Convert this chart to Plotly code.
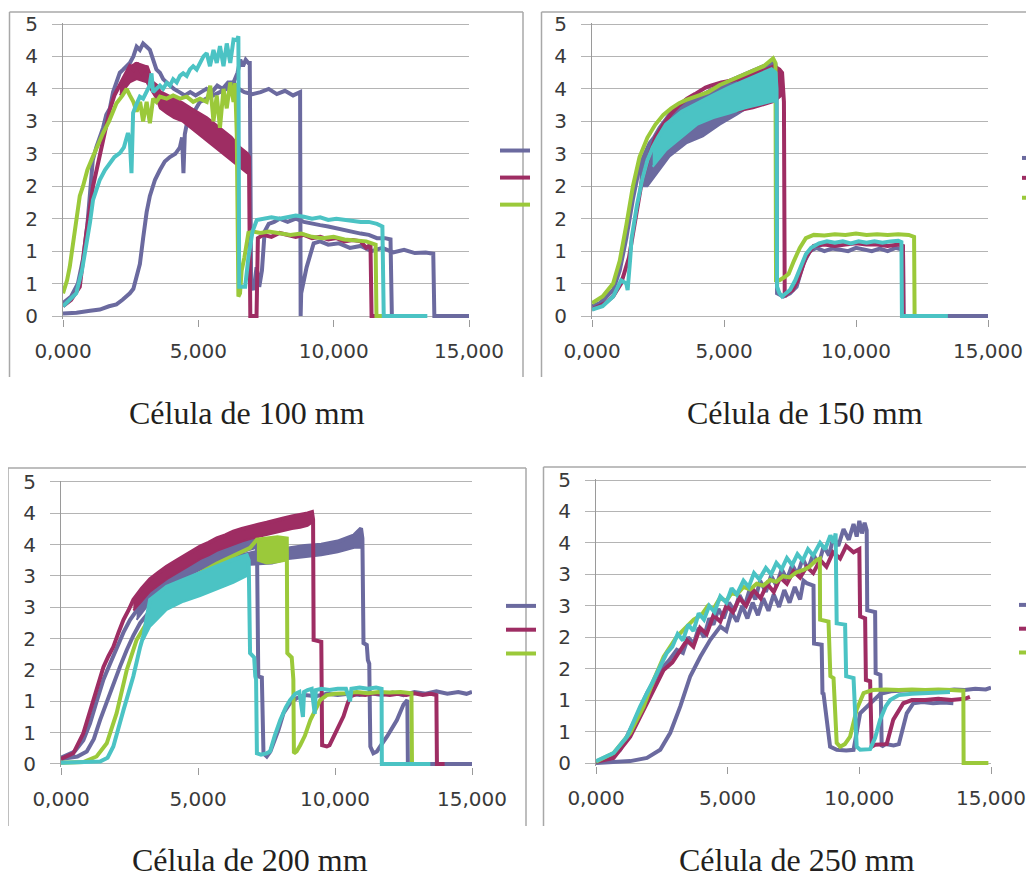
import plotly.graph_objects as go

# The page body adds an 8 px margin; figure pixels = page pixels - 8.
OFF = 8
FW, FH = 1070, 878

# ---------------- tick labels / titles ----------------
Y_TICKS = [0, 0.5, 1.0, 1.5, 2.0, 2.5, 3.0, 3.5, 4.0, 4.5]
Y_TEXT = ["0", "1", "1", "2", "2", "3", "3", "4", "4", "5"]
X_TICKS = [0, 5000, 10000, 15000]
X_TEXT = ["0,000", "5,000", "10,000", "15,000"]
TITLES = ["Célula de 100 mm", "Célula de 150 mm", "Célula de 200 mm", "Célula de 250 mm"]

# ---------------- panel 1 : 100 mm ----------------
P1_PURPLE_A = [(0,0.2),(300,0.3),(550,0.5),(750,0.9),(900,1.4),(1000,1.9),(1100,2.4),(1230,2.6),(1360,2.75),
 (1480,2.9),(1600,3.1),(1730,3.2),(1850,3.45),(1975,3.62),(2100,3.75),(2230,3.8),(2350,3.85),(2470,3.9),
 (2600,4.0),(2720,4.15),(2840,4.1),(2960,4.2),(3090,4.15),(3210,4.1),(3330,3.95),(3450,3.8),(3580,3.75),
 (3700,3.65),(3830,3.6),(3950,3.55),(4100,3.5),(4300,3.45),(4500,3.4),(4700,3.45),(4900,3.4),(5100,3.45),
 (5300,3.5),(5500,3.45),(5700,3.55),(5900,3.5),(6100,3.6),(6300,3.6),(6450,3.75),(6550,3.95),(6650,3.85),
 (6750,3.95),(6850,3.9),(6900,3.9),(6950,0.5),(7050,0.4),(7150,0.75),(7250,0.45),(7350,0.7),(7450,1.3),
 (7600,1.42),(7800,1.45),(8000,1.5),(8300,1.45),(8600,1.5),(8900,1.45),(9200,1.42),(9500,1.4),(9800,1.38),
 (10100,1.35),(10400,1.33),(10700,1.3),(11000,1.27),(11300,1.25),(11600,1.2),(11900,1.2),(12100,1.18),
 (12150,0),(12500,0),(13000,0)]
P1_PURPLE_B = [(0,0.04),(500,0.05),(1000,0.08),(1360,0.1),(1700,0.15),(1975,0.18),(2200,0.25),(2470,0.35),
 (2600,0.42),(2720,0.6),(2840,0.8),(2960,1.2),(3090,1.6),(3210,1.85),(3400,2.1),(3580,2.25),(3760,2.38),
 (3950,2.45),(4150,2.5),(4320,2.6),(4400,2.75),(4450,2.2),(4500,2.8),(4570,2.95),(4700,3.05),(4850,3.15),
 (5060,3.3),(5300,3.35),(5550,3.4),(5800,3.45),(6050,3.5),(6300,3.6),(6500,3.5),(6700,3.45),(7000,3.42),
 (7300,3.45),(7600,3.5),(7900,3.42),(8200,3.47),(8500,3.4),(8760,3.45),(8780,0),(8800,0.35),(9000,0.75),
 (9260,1.12),(9500,1.15),(9800,1.1),(10200,1.12),(10600,1.05),(11000,1.08),(11400,1.0),(11800,1.05),
 (12200,0.98),(12600,1.02),(13000,0.97),(13400,0.98),(13680,0.96),(13720,0),(14200,0),(15000,0)]
P1_CRIMSON = [(0,0.15),(300,0.25),(620,0.45),(860,1.28),(1110,2.0),(1360,2.46),(1600,2.9),(1730,3.18),
 (1900,3.4),(2100,3.55),(2300,3.7),(2470,3.85),(2600,3.8),(2720,3.9),(2900,3.75),(3090,3.85),(3300,3.6),
 (3450,3.55),(3580,3.45),(3830,3.4),(4100,3.35),(4400,3.28),(4700,3.2),(5000,3.12),(5300,3.05),(5600,2.95),
 (5900,2.85),(6200,2.75),(6500,2.6),(6800,2.5),(6870,2.45),(6890,0),(6920,0),(7150,0),(7200,1.2),(7400,1.25),
 (7700,1.22),(8000,1.28),(8300,1.25),(8600,1.22),(8900,1.25),(9200,1.2),(9500,1.22),(9800,1.18),(10100,1.2),
 (10400,1.15),(10700,1.17),(11000,1.15),(11200,1.05),(11360,1.1),(11400,0),(11700,0)]
P1_CRIMSON_HI = [(2100,3.55),(2470,3.85),(2720,3.9),(3090,3.85),(3300,3.6),(3450,3.55),(3580,3.45),(3830,3.4),
 (4100,3.35),(4400,3.28),(4700,3.2),(5000,3.12),(5300,3.05),(5600,2.95),(5900,2.85),(6200,2.75),(6500,2.6),
 (6800,2.5),(6870,2.45)]
P1_CRIMSON_LO = [(2100,3.4),(2470,3.6),(2720,3.65),(3090,3.6),(3300,3.45),(3450,3.35),(3580,3.2),(3830,3.12),
 (4100,3.05),(4400,3.0),(4700,2.9),(5000,2.8),(5300,2.7),(5600,2.6),(5900,2.5),(6200,2.4),(6500,2.3),
 (6800,2.2),(6870,2.2)]
P1_GREEN = [(0,0.35),(150,0.55),(250,0.76),(370,1.1),(490,1.53),(620,1.85),(740,2.0),(900,2.25),(1110,2.46),
 (1300,2.65),(1480,2.82),(1700,3.0),(1975,3.28),(2200,3.4),(2350,3.5),(2470,3.4),(2600,3.3),(2720,3.15),
 (2850,3.3),(2960,3.0),(3090,3.3),(3210,2.97),(3330,3.35),(3450,3.3),(3580,3.38),(3830,3.35),(4070,3.4),
 (4320,3.35),(4570,3.38),(4810,3.3),(5060,3.35),(5310,3.3),(5440,3.55),(5560,3.0),(5680,3.4),(5800,2.9),
 (5930,3.5),(6050,3.2),(6180,3.6),(6300,3.3),(6360,3.59),(6420,2.8),(6450,0.4),(6480,0.3),(6540,0.35),
 (6600,0.7),(6700,0.9),(6850,1.28),(7040,1.3),(7300,1.28),(7600,1.3),(8000,1.27),(8400,1.25),(8800,1.27),
 (9200,1.22),(9600,1.2),(10000,1.22),(10400,1.18),(10800,1.17),(11200,1.15),(11550,1.1),(11580,0),(11800,0)]
P1_CYAN = [(0,0.15),(250,0.25),(490,0.35),(700,0.7),(860,1.07),(1000,1.45),(1110,1.79),(1230,1.95),
 (1360,2.1),(1550,2.25),(1730,2.36),(1900,2.45),(2100,2.51),(2250,2.6),(2400,2.82),(2470,2.7),(2530,2.2),
 (2560,2.8),(2590,3.13),(2700,3.25),(2840,3.38),(2960,3.35),(3100,3.45),(3200,3.55),(3270,3.74),(3330,3.45),
 (3450,3.5),(3580,3.55),(3700,3.5),(3830,3.59),(3950,3.55),(4070,3.65),(4200,3.6),(4320,3.7),(4440,3.74),
 (4570,3.7),(4690,3.8),(4810,3.85),(4940,3.8),(5060,3.9),(5190,4.0),(5310,4.05),(5430,3.85),(5560,4.1),
 (5680,3.9),(5800,4.16),(5930,3.85),(6050,4.2),(6180,3.9),(6300,4.26),(6420,4.25),(6480,4.31),(6510,0.45),
 (6550,0.45),(6730,0.45),(6850,0.9),(7000,1.3),(7160,1.48),(7400,1.5),(7700,1.52),(8000,1.5),(8300,1.53),
 (8600,1.55),(8900,1.53),(9200,1.5),(9500,1.52),(9800,1.48),(10100,1.5),(10400,1.48),(10700,1.47),
 (11000,1.45),(11300,1.45),(11600,1.42),(11800,1.38),(11850,0),(11900,0),(13460,0)]

# ---------------- panel 2 : 150 mm ----------------
P2_PURPLE = [(0,0.15),(300,0.2),(550,0.3),(800,0.4),(1050,0.7),(1300,1.2),(1550,1.8),(1800,2.3),(2000,2.5),
 (2180,2.66),(2350,2.75),(2560,2.9),(3070,3.18),(3570,3.33),(4200,3.41),(4840,3.56),(5470,3.67),(6100,3.77),
 (6500,3.85),(6860,3.92),(6950,3.88),(6990,3.6),(7010,0.35),(7250,0.3),(7500,0.35),(7750,0.45),(8000,0.8),
 (8250,1.0),(8500,1.05),(8800,1.0),(9100,1.04),(9400,1.02),(9700,1.0),(10000,1.05),(10300,1.02),(10600,1.0),
 (10900,1.04),(11200,1.0),(11500,1.05),(11780,1.02),(11800,0),(13000,0),(15000,0)]
P2_PURPLE_HI = [(1800,2.3),(2000,2.5),(2180,2.66),(2350,2.75),(2560,2.9),(3070,3.18),(3570,3.33),(4200,3.41),
 (4840,3.56),(5470,3.67),(6100,3.77),(6500,3.85),(6860,3.92),(6950,3.88)]
P2_PURPLE_LO = [(1800,2.0),(2100,2.0),(2300,2.1),(2560,2.25),(2940,2.46),(3570,2.66),(4200,2.77),(4840,2.95),
 (5470,3.1),(6100,3.26),(6730,3.33),(6950,3.35)]
P2_CRIMSON = [(0,0.1),(500,0.2),(800,0.3),(1100,0.5),(1400,0.9),(1650,1.5),(1900,2.1),(2150,2.45),(2400,2.75),
 (2700,2.95),(3000,3.12),(3300,3.25),(3600,3.35),(3900,3.42),(4100,3.47),(4300,3.52),(4500,3.55),(4900,3.6),
 (5300,3.63),(5700,3.68),(6100,3.72),(6500,3.78),(6900,3.85),(7100,3.8),(7200,3.75),(7270,3.3),(7300,0.3),
 (7400,0.35),(7600,0.4),(7800,0.55),(8100,0.9),(8400,1.08),(8800,1.1),(9200,1.08),(9600,1.1),(10000,1.12),
 (10400,1.1),(10800,1.1),(11200,1.08),(11600,1.1),(11780,1.08),(11800,0),(12000,0)]
P2_CRIMSON_HI = [(5500,3.65),(6100,3.72),(6500,3.78),(6900,3.85),(7200,3.75)]
P2_CRIMSON_LO = [(5500,3.15),(6100,3.2),(6500,3.25),(6900,3.3),(7200,3.4)]
P2_GREEN = [(0,0.2),(400,0.3),(800,0.5),(1050,0.85),(1300,1.4),(1550,2.0),(1800,2.45),(2100,2.75),(2400,2.95),
 (2700,3.1),(3000,3.2),(3300,3.28),(3570,3.33),(3900,3.38),(4400,3.45),(4840,3.56),(5470,3.67),(6100,3.78),
 (6500,3.85),(6860,3.97),(6950,3.9),(6970,0.55),(7100,0.55),(7300,0.6),(7450,0.65),(7650,0.85),(7870,1.05),
 (8100,1.2),(8400,1.25),(8800,1.24),(9200,1.26),(9600,1.25),(10000,1.27),(10400,1.25),(10800,1.26),
 (11200,1.25),(11600,1.26),(12000,1.25),(12200,1.22),(12220,0),(12300,0)]
P2_CYAN = [(0,0.1),(400,0.15),(800,0.3),(1100,0.55),(1300,0.5),(1350,0.4),(1450,0.9),(1500,1.2),(1700,1.7),
 (1900,2.1),(2100,2.4),(2300,2.6),(2500,2.75),(2800,2.95),(3400,3.15),(4000,3.28),(4600,3.4),(5200,3.52),
 (5800,3.62),(6400,3.72),(6800,3.8),(6950,3.75),(6990,3.5),(7010,0.45),(7100,0.35),(7200,0.3),(7350,0.35),
 (7500,0.4),(7700,0.55),(7900,0.75),(8100,0.95),(8300,1.05),(8600,1.12),(8900,1.15),(9200,1.13),(9500,1.15),
 (9800,1.12),(10100,1.15),(10400,1.13),(10700,1.15),(11000,1.13),(11300,1.15),(11600,1.16),(11720,1.14),
 (11740,0),(13480,0)]
P2_CYAN_HI = [(2300,2.6),(2500,2.75),(2800,2.95),(3400,3.15),(4000,3.28),(4600,3.4),(5200,3.52),(5800,3.62),
 (6400,3.72),(6800,3.8),(6950,3.75)]
P2_CYAN_LO = [(2300,2.3),(2500,2.4),(2800,2.55),(3400,2.75),(4000,2.95),(4600,3.05),(5200,3.12),(5800,3.2),
 (6400,3.26),(6800,3.3),(6950,3.3)]

# ---------------- panel 3 : 200 mm ----------------
P3_PURPLE_A = [(0,0.1),(500,0.2),(815,0.38),(1060,0.65),(1300,1.0),(1550,1.35),(1790,1.6),(2030,1.85),
 (2280,2.1),(2520,2.3),(2760,2.45),(3250,2.75),(3860,2.96),(4470,3.13),(5080,3.27),(5690,3.39),(6290,3.5),
 (6900,3.6),(7150,3.62),(7200,1.4),(7330,1.38),(7390,0.17),(7510,0.12),(7640,0.2),(7760,0.33),(7940,0.55),
 (8120,0.81),(8360,0.97),(8600,1.05),(8900,1.1),(9300,1.08),(9700,1.12),(10100,1.1),(10500,1.12),(10900,1.1),
 (11300,1.13),(11700,1.1),(12100,1.14),(12500,1.1),(12900,1.15),(13300,1.12),(13700,1.16),(14100,1.12),
 (14500,1.15),(14800,1.12),(15000,1.15)]
P3_PURPLE_A_HI = [(2760,2.45),(3250,2.75),(3860,2.96),(4470,3.13),(5080,3.27),(5690,3.39),(6290,3.5),
 (6900,3.6),(7150,3.62)]
P3_PURPLE_A_LO = [(2760,2.3),(3250,2.58),(3860,2.8),(4470,2.96),(5080,3.1),(5690,3.22),(6290,3.32),
 (6900,3.42),(7150,3.45)]
P3_PURPLE_B = [(0,0.08),(600,0.12),(940,0.2),(1200,0.4),(1425,0.7),(1670,1.0),(1910,1.29),(2150,1.55),
 (2400,1.82),(2640,2.05),(2890,2.25),(3190,2.42),(3490,2.57),(4100,2.8),(4700,2.96),(5300,3.1),(5900,3.22),
 (6500,3.32),(7100,3.38),(7700,3.4),(8300,3.44),(8900,3.48),(9500,3.5),(10100,3.55),(10700,3.65),
 (10950,3.76),(11000,3.6),(11040,1.93),(11160,1.9),(11200,1.66),(11250,1.6),(11290,0.28),(11400,0.17),
 (11530,0.2),(11650,0.28),(11900,0.44),(12260,0.7),(12500,0.95),(12640,1.02),(12660,0),(13000,0),(15000,0)]
P3_PURPLE_B_HI = [(3490,2.57),(4100,2.8),(4700,2.96),(5300,3.1),(5900,3.22),(6500,3.32),(7100,3.38),
 (7700,3.4),(8300,3.44),(8900,3.48),(9500,3.5),(10100,3.55),(10700,3.65),(10950,3.76),(11000,3.6)]
P3_PURPLE_B_LO = [(3490,2.45),(4100,2.65),(4700,2.82),(5300,2.95),(5900,3.07),(6500,3.17),(7100,3.18),
 (7700,3.2),(8300,3.27),(8900,3.3),(9500,3.33),(10100,3.38),(10700,3.45),(11000,3.45)]
P3_CRIMSON = [(0,0.08),(450,0.17),(815,0.49),(1000,0.75),(1180,1.02),(1370,1.3),(1550,1.55),(1730,1.72),
 (1910,1.87),(2100,2.1),(2280,2.3),(2460,2.45),(2640,2.62),(2950,2.8),(3250,2.95),(3550,3.05),(3860,3.15),
 (4170,3.23),(4470,3.31),(4780,3.39),(5080,3.47),(5390,3.53),(5690,3.6),(6000,3.65),(6290,3.71),(6600,3.75),
 (6900,3.79),(7200,3.82),(7510,3.85),(7820,3.89),(8120,3.92),(8430,3.95),(8730,3.97),(9000,4.0),(9160,4.02),
 (9200,3.9),(9220,1.98),(9500,1.95),(9530,0.3),(9700,0.28),(9800,0.3),(9950,0.44),(10130,0.6),(10310,0.76),
 (10450,0.95),(10560,1.08),(10800,1.12),(11100,1.1),(11400,1.13),(11700,1.12),(12000,1.1),(12300,1.12),
 (12600,1.1),(12900,1.13),(13200,1.1),(13500,1.12),(13700,1.1),(13720,0),(14000,0)]
P3_CRIMSON_HI = [(2640,2.62),(2950,2.8),(3250,2.95),(3550,3.05),(3860,3.15),(4170,3.23),(4470,3.31),
 (4780,3.39),(5080,3.47),(5390,3.53),(5690,3.6),(6000,3.65),(6290,3.71),(6600,3.75),(6900,3.79),(7200,3.82),
 (7510,3.85),(7820,3.89),(8120,3.92),(8430,3.95),(8730,3.97),(9000,4.0),(9160,4.02)]
P3_CRIMSON_LO = [(2640,2.45),(2950,2.6),(3250,2.75),(3550,2.85),(3860,2.95),(4170,3.03),(4470,3.11),
 (4780,3.19),(5080,3.27),(5390,3.33),(5690,3.4),(6000,3.45),(6290,3.5),(6600,3.55),(6900,3.59),(7200,3.62),
 (7510,3.65),(7820,3.69),(8120,3.72),(8430,3.75),(8730,3.77),(9000,3.8),(9160,3.85)]
P3_GREEN = [(0,0.02),(815,0.03),(1300,0.12),(1670,0.33),(2030,0.81),(2400,1.5),(2760,1.98),(3130,2.25),
 (3500,2.45),(3860,2.62),(4200,2.78),(4470,2.85),(5080,3.05),(5690,3.2),(6290,3.32),(6900,3.45),(7150,3.58),
 (7500,3.6),(7900,3.62),(8240,3.6),(8260,1.77),(8420,1.7),(8450,1.4),(8480,1.35),(8500,0.17),(8600,0.2),
 (8730,0.3),(8900,0.45),(9100,0.7),(9300,0.88),(9460,1.02),(9700,1.1),(10000,1.12),(10400,1.13),
 (10800,1.15),(11200,1.13),(11600,1.15),(12000,1.14),(12400,1.15),(12790,1.13),(12810,0),(13000,0)]
P3_GREEN_HI = [(7150,3.58),(7500,3.6),(7900,3.62),(8240,3.6)]
P3_GREEN_LO = [(7150,3.25),(7500,3.2),(7900,3.22),(8240,3.25)]
P3_CYAN = [(0,0.02),(1000,0.03),(1425,0.04),(1700,0.1),(1910,0.28),(2280,0.86),(2640,1.4),(2890,1.87),
 (3010,2.05),(3250,2.62),(3860,2.83),(4470,2.94),(5080,3.05),(5690,3.15),(6290,3.26),(6780,3.33),(6850,3.25),
 (6900,1.77),(7050,1.7),(7090,1.4),(7120,1.35),(7150,0.17),(7300,0.15),(7500,0.17),(7630,0.2),(7800,0.45),
 (8000,0.7),(8200,0.9),(8360,1.02),(8550,1.12),(8700,1.15),(8830,0.75),(8870,1.15),(9000,1.18),(9150,1.2),
 (9260,0.8),(9300,1.18),(9500,1.2),(9800,1.18),(10100,1.2),(10400,1.2),(10550,1.0),(10600,1.2),(10900,1.22),
 (11200,1.2),(11500,1.22),(11700,1.2),(11710,0),(12500,0),(13480,0)]
P3_CYAN_HI = [(3010,2.05),(3250,2.62),(3860,2.83),(4470,2.94),(5080,3.05),(5690,3.15),(6290,3.26),
 (6780,3.33),(6850,3.25)]
P3_CYAN_LO = [(3010,1.98),(3250,2.19),(3860,2.46),(4470,2.59),(5080,2.68),(5690,2.78),(6290,2.89),
 (6780,3.0),(6850,3.0)]

# ---------------- panel 4 : 250 mm ----------------
P4_PURPLE_A = [(0,0),(1300,0.03),(1935,0.08),(2440,0.21),(2820,0.48),(3200,0.9),(3580,1.38),(3960,1.69),
 (4340,1.96),(4720,2.17),(4950,2.1),(5150,2.4),(5350,2.25),(5550,2.5),(5750,2.3),(5950,2.55),(6150,2.35),
 (6350,2.62),(6550,2.42),(6750,2.68),(6950,2.48),(7150,2.75),(7350,2.55),(7550,2.8),(7750,2.6),(7880,2.9),
 (8000,2.86),(8260,2.82),(8280,1.9),(8570,1.88),(8600,1.11),(8640,1.1),(8890,0.26),(9140,0.21),(9500,0.2),
 (9780,0.21),(10030,0.79),(10410,0.95),(10800,1.1),(11200,1.14),(11600,1.15),(12000,1.16),(12400,1.15),
 (12800,1.16),(13200,1.15),(13600,1.17),(14000,1.16),(14400,1.18),(14800,1.17),(15000,1.2)]
P4_PURPLE_B = [(0,0.02),(500,0.05),(920,0.21),(1430,0.64),(1935,1.11),(2440,1.48),(2750,1.62),(3070,1.8),
 (3300,1.75),(3500,2.0),(3710,1.9),(3900,2.15),(4100,2.0),(4300,2.3),(4460,2.2),(4650,2.45),(4850,2.3),
 (5050,2.55),(5250,2.42),(5450,2.67),(5650,2.5),(5850,2.78),(6050,2.6),(6230,2.9),(6450,2.72),(6650,2.98),
 (6850,2.82),(7050,3.08),(7250,2.92),(7450,3.15),(7650,3.0),(7850,3.25),(8050,3.08),(8250,3.32),(8450,3.15),
 (8650,3.45),(8850,3.3),(9020,3.6),(9200,3.45),(9400,3.72),(9600,3.55),(9780,3.8),(9900,3.6),(10000,3.85),
 (10100,3.65),(10200,3.82),(10280,3.7),(10300,2.43),(10600,2.4),(10620,1.43),(10800,1.4),(10850,0.26),
 (11000,0.3),(11300,0.28),(11500,0.3),(11800,0.79),(12050,0.95),(12400,0.97),(12800,0.95),(13200,0.96),
 (13570,0.95)]
P4_CRIMSON = [(0,0.02),(670,0.08),(1300,0.42),(1935,0.95),(2570,1.48),(2900,1.6),(3200,1.78),(3450,1.95),
 (3700,1.85),(3950,2.15),(4200,2.05),(4460,2.35),(4720,2.25),(4950,2.5),(5200,2.4),(5450,2.62),(5700,2.5),
 (5980,2.75),(6250,2.62),(6500,2.85),(6750,2.72),(7000,2.95),(7250,2.85),(7500,3.05),(7750,2.95),(8000,3.12),
 (8250,3.02),(8510,3.23),(8750,3.12),(9000,3.35),(9270,3.25),(9500,3.45),(9780,3.35),(10000,3.4),
 (10030,2.33),(10220,2.3),(10250,1.32),(10410,1.3),(10470,0.26),(10600,0.29),(11040,0.3),(11290,0.69),
 (11670,0.95),(12000,1.0),(12500,1.0),(13000,1.02),(13500,1.0),(14000,1.02),(14200,1.05)]
P4_GREEN = [(0,0.02),(670,0.16),(1300,0.48),(1810,0.9),(2190,1.32),(2570,1.69),(3070,2.01),(3400,2.15),
 (3710,2.28),(4000,2.35),(4250,2.5),(4460,2.45),(4700,2.62),(4950,2.58),(5150,2.7),(5350,2.68),(5600,2.8),
 (5850,2.76),(6100,2.85),(6350,2.82),(6610,2.91),(6850,2.88),(7100,2.97),(7350,2.95),(7600,3.03),
 (7880,3.07),(8100,3.12),(8380,3.23),(8500,3.25),(8510,2.28),(8830,2.25),(8900,1.38),(9020,1.35),
 (9140,0.32),(9270,0.26),(9450,0.3),(9650,0.42),(9900,0.85),(10160,1.11),(10500,1.16),(11000,1.17),
 (11500,1.16),(12000,1.17),(12500,1.16),(13000,1.17),(13500,1.16),(13950,1.15),(13960,0),(14400,0),(14900,0)]
P4_CYAN = [(0,0.03),(670,0.16),(1180,0.42),(1680,0.9),(2190,1.32),(2440,1.55),(2690,1.75),(2900,1.85),
 (3100,2.05),(3300,1.95),(3500,2.2),(3700,2.1),(3900,2.38),(4100,2.28),(4300,2.5),(4500,2.4),(4720,2.65),
 (4950,2.55),(5150,2.78),(5350,2.68),(5600,2.9),(5800,2.8),(6000,3.02),(6200,2.92),(6450,3.1),(6650,3.0),
 (6850,3.18),(7050,3.08),(7250,3.26),(7450,3.15),(7650,3.32),(7850,3.22),(8050,3.4),(8250,3.3),(8510,3.5),
 (8700,3.4),(8900,3.62),(9020,3.5),(9100,3.65),(9140,2.22),(9460,2.2),(9500,1.38),(9780,1.35),(9900,0.26),
 (10030,0.21),(10410,0.22),(10600,0.4),(10790,0.69),(11000,0.9),(11170,1.0),(11500,1.08),(12000,1.1),
 (12500,1.11),(13000,1.12),(13440,1.13)]

PURPLE, CRIMSON, GREEN, CYAN = "#6B6A9F", "#9E2D63", "#9BC93A", "#4BC3C4"

# (curve, colour, in legend, band upper, band lower)
PANELS = [
    [(P1_PURPLE_A, PURPLE, True, None, None), (P1_PURPLE_B, PURPLE, False, None, None),
     (P1_CRIMSON, CRIMSON, True, P1_CRIMSON_HI, P1_CRIMSON_LO), (P1_GREEN, GREEN, True, None, None),
     (P1_CYAN, CYAN, False, None, None)],
    [(P2_PURPLE, PURPLE, True, P2_PURPLE_HI, P2_PURPLE_LO),
     (P2_CRIMSON, CRIMSON, True, P2_CRIMSON_HI, P2_CRIMSON_LO), (P2_GREEN, GREEN, True, None, None),
     (P2_CYAN, CYAN, False, P2_CYAN_HI, P2_CYAN_LO)],
    [(P3_PURPLE_A, PURPLE, True, P3_PURPLE_A_HI, P3_PURPLE_A_LO),
     (P3_PURPLE_B, PURPLE, False, P3_PURPLE_B_HI, P3_PURPLE_B_LO),
     (P3_CRIMSON, CRIMSON, True, P3_CRIMSON_HI, P3_CRIMSON_LO), (P3_GREEN, GREEN, True, P3_GREEN_HI, P3_GREEN_LO),
     (P3_CYAN, CYAN, False, P3_CYAN_HI, P3_CYAN_LO)],
    [(P4_PURPLE_A, PURPLE, True, None, None), (P4_PURPLE_B, PURPLE, False, None, None),
     (P4_CRIMSON, CRIMSON, True, None, None), (P4_GREEN, GREEN, True, None, None),
     (P4_CYAN, CYAN, False, None, None)],
]

# layout geometry in page pixels: x of 0 / 15000, y of 0 / 4.5
GEOM = [(63, 469, 316, 24), (592, 988, 316, 24), (61, 472, 764, 482), (596, 991, 763, 480)]
YMIN, YMAX = -0.05, 4.52
BOXES = [(9.5, 12, 523, 377), (541.5, 12, 1045, 377), (8, 468, 526, 826), (543.5, 467, 1045, 826)]
TITLE_POS = [(247, 413), (805, 413), (250, 860), (797, 860)]
# legend: page x of stub start, page y of centre, font size (sets row spacing)
LEGENDS = [(500, 178, 18.5), (1022, 178, 13), (506, 630, 16), (1019, 629, 16)]


def px(p):
    return (p - OFF) / FW


def py(p):
    return 1 - (p - OFF) / FH


fig = go.Figure()
GRID = "#B4B4B4"
AXC = "#9A9A9A"
TICKFONT = dict(family="DejaVu Sans", size=20, color="#3A3A3A")

for i, series in enumerate(PANELS):
    n = "" if i == 0 else str(i + 1)
    lg = "legend" + n
    for pts, col, show, hi, lo in series:
        if hi is not None:
            bx = [p[0] for p in hi] + [p[0] for p in lo[::-1]]
            by = [p[1] for p in hi] + [p[1] for p in lo[::-1]]
            fig.add_trace(go.Scatter(
                x=bx, y=by, mode="lines", fill="toself", fillcolor=col,
                line=dict(color=col, width=2), showlegend=False,
                xaxis="x" + n, yaxis="y" + n, hoverinfo="skip"))
        fig.add_trace(go.Scatter(
            x=[p[0] for p in pts], y=[p[1] for p in pts], mode="lines",
            line=dict(color=col, width=4), name="", showlegend=show,
            legend=lg, xaxis="x" + n, yaxis="y" + n, hoverinfo="skip"))
    x0, x1, y0, y45 = GEOM[i]
    s = (y0 - y45) / 4.5
    bot = y0 + (0 - YMIN) * s
    top = y45 - (YMAX - 4.5) * s
    fig.layout["xaxis" + n] = dict(
        domain=[px(x0), px(x1)], range=[0, 15000], anchor="y" + n,
        tickvals=X_TICKS, ticktext=X_TEXT, showgrid=False, zeroline=False,
        showline=False, ticks="outside", ticklen=7, tickcolor=AXC, tickwidth=1,
        tickfont=TICKFONT, ticklabelstandoff=7, automargin=False)
    fig.layout["yaxis" + n] = dict(
        domain=[py(bot), py(top)], range=[YMIN, YMAX], anchor="x" + n,
        tickvals=Y_TICKS, ticktext=Y_TEXT, showgrid=True, gridcolor=GRID, gridwidth=1,
        zeroline=False, showline=True, linecolor=AXC, linewidth=1,
        ticks="outside", ticklen=10, tickcolor=GRID, tickwidth=1,
        tickfont=TICKFONT, ticklabelstandoff=10, automargin=False)
    lx, ly, fs = LEGENDS[i]
    fig.layout[lg] = dict(x=px(lx - 5), y=py(ly), xanchor="left", yanchor="middle",
                          bgcolor="rgba(0,0,0,0)", font=dict(size=fs), itemwidth=30,
                          traceorder="normal", borderwidth=0)
    bl, bt, br, bb = BOXES[i]
    for (xa, ya, xb, yb) in [(bl, bb, bl, bt), (bl, bt, br, bt), (br, bt, br, bb)]:
        fig.add_shape(type="line", xref="paper", yref="paper",
                      x0=px(xa), y0=py(ya), x1=px(xb), y1=py(yb),
                      line=dict(color="#A8A8A8", width=1.5), layer="below")
    tx, ty = TITLE_POS[i]
    fig.add_annotation(x=px(tx), y=py(ty), xref="paper", yref="paper",
                       text=TITLES[i], showarrow=False, xanchor="center", yanchor="middle",
                       font=dict(family="Liberation Serif", size=32, color="#231F20"))

fig.update_layout(width=FW, height=FH, margin=dict(l=0, r=0, t=0, b=0, autoexpand=False),
                  paper_bgcolor="white", plot_bgcolor="rgba(0,0,0,0)", showlegend=True)
fig.write_html("out.html")
